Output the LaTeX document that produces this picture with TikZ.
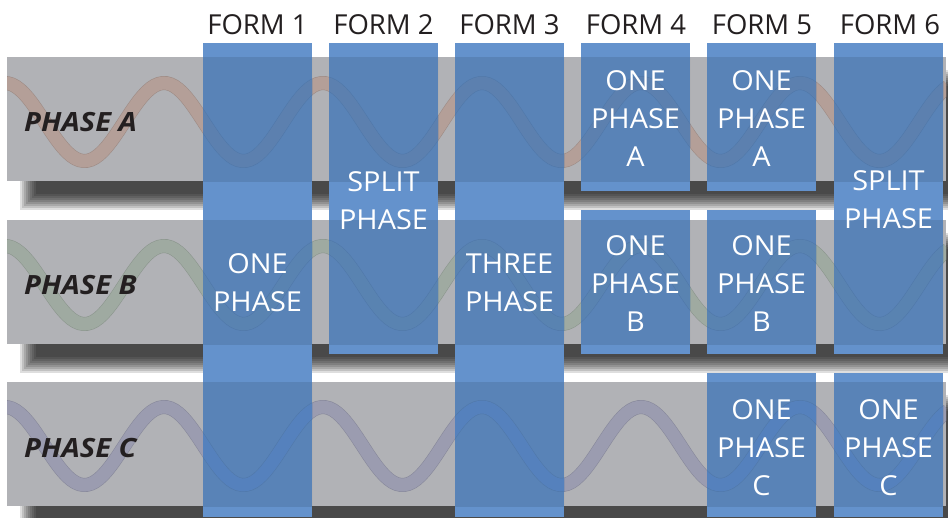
\documentclass[tikz,border=0pt]{standalone}
\usepackage{fontspec}
\setmainfont{Open Sans}
\newfontfamily\phasefont{Open Sans}[FakeStretch=1.1]
\newfontfamily\boxfont{Open Sans}[FakeStretch=1.05]
\definecolor{bandgray}{HTML}{B1B2B6}
\definecolor{colblue}{HTML}{6492CC}
\definecolor{wavea}{HTML}{B49F98}
\definecolor{waveb}{HTML}{9FAAA1}
\definecolor{wavec}{HTML}{9B9CB0}
\definecolor{txtdark}{HTML}{231F20}
\definecolor{bluewaveout}{HTML}{5179AA}
\definecolor{bluewavea}{HTML}{5C80AF}
\definecolor{bluewaveb}{HTML}{5983B1}
\definecolor{bluewavec}{HTML}{5581BD}
\tikzset{
  colbox/.style={fill=colblue},
  formlbl/.style={text=txtdark,font=\fontsize{27.5pt}{30pt}\selectfont,inner sep=0pt},
  phaselbl/.style={text=txtdark,font=\phasefont\fontsize{26.5pt}{30pt}\selectfont\bfseries\itshape,inner sep=0pt,anchor=base west},
  boxlbl/.style={text=white,font=\boxfont\fontsize{27.5pt}{38pt}\selectfont,align=center,inner sep=0pt},
  waveouter/.style={line width=14pt},
  waveinner/.style={line width=12.8pt}
}
\begin{document}
\begin{tikzpicture}[x=1pt,y=-1pt]
\useasboundingbox (0,0) rectangle (948,517);
% shadows (soft)
\foreach \yt in {57,220,382} {
  \foreach \k in {-8,-6,...,8} {
    \fill[black,opacity=0.13] (28+\k,\yt+21+\k) rectangle (968-\k,\yt+145-\k);
  }
}
% bands
\foreach \yt in {57,220,382} {
  \fill[bandgray] (7,\yt) rectangle (946,\yt+124);
}
% waves on bands
\begin{scope}
  \clip (7,57) rectangle (946,181);
  \draw[waveouter,wavea!88!black] plot[domain=0:948,samples=240] (\x,{122-39*cos(2.26415*(\x-5))});
  \draw[waveinner,wavea] plot[domain=0:948,samples=240] (\x,{122-39*cos(2.26415*(\x-5))});
\end{scope}
\begin{scope}
  \clip (7,220) rectangle (946,344);
  \draw[waveouter,waveb!88!black] plot[domain=0:948,samples=240] (\x,{285-39*cos(2.26415*(\x-5))});
  \draw[waveinner,waveb] plot[domain=0:948,samples=240] (\x,{285-39*cos(2.26415*(\x-5))});
\end{scope}
\begin{scope}
  \clip (7,382) rectangle (946,506);
  \draw[waveouter,wavec!88!black] plot[domain=0:948,samples=240] (\x,{446-39*cos(2.26415*(\x-5))});
  \draw[waveinner,wavec] plot[domain=0:948,samples=240] (\x,{446-39*cos(2.26415*(\x-5))});
\end{scope}
% columns
\fill[colbox] (203,43) rectangle (312,517);
\fill[colbox] (329,43) rectangle (438,354);
\fill[colbox] (455,43) rectangle (564,517);
\fill[colbox] (581,43) rectangle (690,191);
\fill[colbox] (581,210) rectangle (690,354);
\fill[colbox] (707,43) rectangle (816,191);
\fill[colbox] (707,210) rectangle (816,354);
\fill[colbox] (707,373) rectangle (816,517);
\fill[colbox] (834,43) rectangle (943,354);
\fill[colbox] (834,373) rectangle (943,517);
% band overlays inside columns
\begin{scope}
  \clip (7,57) rectangle (946,181);
  \clip (203,0) rectangle (312,517) (329,0) rectangle (438,517) (455,0) rectangle (564,517)
        (581,0) rectangle (690,517) (707,0) rectangle (816,517) (834,0) rectangle (943,517);
  \fill[black,opacity=0.1] (0,0) rectangle (948,517);
  \draw[waveouter,bluewaveout] plot[domain=0:948,samples=240] (\x,{122-39*cos(2.26415*(\x-5))});
  \draw[waveinner,bluewavea] plot[domain=0:948,samples=240] (\x,{122-39*cos(2.26415*(\x-5))});
\end{scope}
\begin{scope}
  \clip (7,220) rectangle (946,344);
  \clip (203,0) rectangle (312,517) (329,0) rectangle (438,517) (455,0) rectangle (564,517)
        (581,0) rectangle (690,517) (707,0) rectangle (816,517) (834,0) rectangle (943,517);
  \fill[black,opacity=0.1] (0,0) rectangle (948,517);
  \draw[waveouter,bluewaveout] plot[domain=0:948,samples=240] (\x,{285-39*cos(2.26415*(\x-5))});
  \draw[waveinner,bluewaveb] plot[domain=0:948,samples=240] (\x,{285-39*cos(2.26415*(\x-5))});
\end{scope}
\begin{scope}
  \clip (7,382) rectangle (946,506);
  \clip (203,0) rectangle (312,517) (455,0) rectangle (564,517)
        (707,0) rectangle (816,517) (834,0) rectangle (943,517);
  \fill[black,opacity=0.1] (0,0) rectangle (948,517);
  \draw[waveouter,bluewaveout] plot[domain=0:948,samples=240] (\x,{446-39*cos(2.26415*(\x-5))});
  \draw[waveinner,bluewavec] plot[domain=0:948,samples=240] (\x,{446-39*cos(2.26415*(\x-5))});
\end{scope}
% headers
\node[formlbl] (f1) at (257.5,25) {FORM 1};
\node[formlbl] (f2) at (383.5,25) {FORM 2};
\node[formlbl] (f3) at (509.5,25) {FORM 3};
\node[formlbl] (f4) at (636,25) {FORM 4};
\node[formlbl] (f5) at (762,25) {FORM 5};
\node[formlbl] (f6) at (890,25) {FORM 6};
% phase labels
\node[phaselbl] (pa) at (24,131) {PHASE A};
\node[phaselbl] (pb) at (24,294) {PHASE B};
\node[phaselbl] (pc) at (24,457) {PHASE C};
% box labels
\node[boxlbl] (t1) at (257.5,283) {ONE\\PHASE};
\node[boxlbl] (t2) at (383.5,201) {SPLIT\\PHASE};
\node[boxlbl] (t3) at (509.5,283) {THREE\\PHASE};
\node[boxlbl] (t4a) at (635.5,119) {ONE\\PHASE\\A};
\node[boxlbl] (t4b) at (635.5,284) {ONE\\PHASE\\B};
\node[boxlbl] (t5a) at (761.5,119) {ONE\\PHASE\\A};
\node[boxlbl] (t5b) at (761.5,284) {ONE\\PHASE\\B};
\node[boxlbl] (t5c) at (761.5,448) {ONE\\PHASE\\C};
\node[boxlbl] (t6) at (888.5,200) {SPLIT\\PHASE};
\node[boxlbl] (t6c) at (888.5,448) {ONE\\PHASE\\C};
\end{tikzpicture}
\end{document}
